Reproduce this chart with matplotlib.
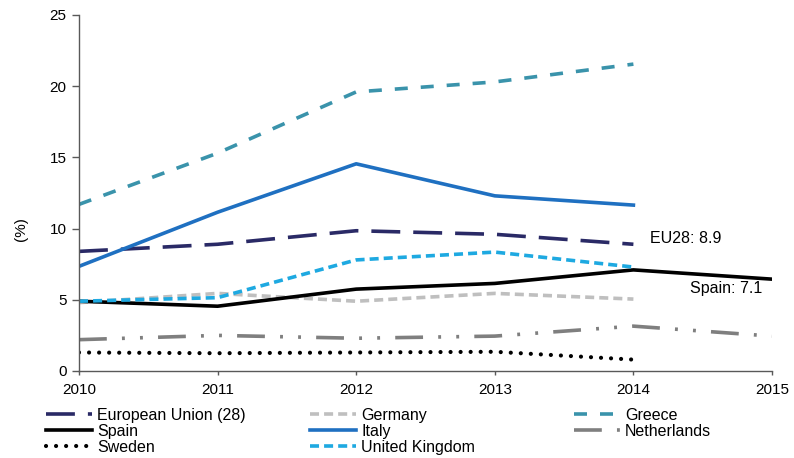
import matplotlib
matplotlib.use("Agg")
import matplotlib.pyplot as plt

plt.rcParams['font.family'] = ['Liberation Sans', 'DejaVu Sans']

years = [2010, 2011, 2012, 2013, 2014, 2015]

eu28 = [8.4, 8.9, 9.85, 9.6, 8.9]
germany = [4.8, 5.45, 4.9, 5.45, 5.05]
greece = [11.7, 15.3, 19.6, 20.3, 21.55]
spain = [4.9, 4.55, 5.75, 6.15, 7.1, 6.45]
italy = [7.35, 11.15, 14.55, 12.3, 11.65]
netherlands = [2.2, 2.5, 2.3, 2.45, 3.15, 2.45]
sweden = [1.3, 1.25, 1.3, 1.35, 0.8]
uk = [4.9, 5.15, 7.8, 8.35, 7.3]

W, H = 794, 458
fig = plt.figure(figsize=(W / 100, H / 100), dpi=100)
ax = fig.add_axes([79 / W, 1 - 371 / H, (772 - 79) / W, (371 - 15) / H])

lw = 2.6
lines = {}
lines['eu'], = ax.plot(years[:5], eu28, color='#2a2a66', lw=lw, dashes=(8, 3.6),
                       label='European Union (28)')
lines['de'], = ax.plot(years[:5], germany, color='#bfbfbf', lw=lw, dashes=(2.5, 1.4),
                       label='Germany')
lines['gr'], = ax.plot(years[:5], greece, color='#3a93ab', lw=lw, dashes=(3.6, 3.6),
                       label='Greece')
lines['es'], = ax.plot(years, spain, color='#000000', lw=lw, label='Spain')
lines['it'], = ax.plot(years[:5], italy, color='#1f70c1', lw=lw, label='Italy')
lines['nl'], = ax.plot(years, netherlands, color='#7f7f7f', lw=lw,
                       dashes=(7.7, 4.2, 0.8, 4.2, 0.8, 4.2), label='Netherlands')
lines['se'], = ax.plot(years[:5], sweden, color='#000000', lw=lw + 0.4, dashes=(0.01, 2.4),
                       dash_capstyle='round', label='Sweden')
lines['uk'], = ax.plot(years[:5], uk, color='#1ea9e1', lw=lw, dashes=(2.5, 1.4),
                       label='United Kingdom')

ax.text(2014.12, 9.27, 'EU28: 8.9', fontsize=11.5, va='center', ha='left')
ax.text(2014.93, 5.76, 'Spain: 7.1', fontsize=11.5, va='center', ha='right')

ax.set_xlim(2010, 2015)
ax.set_ylim(0, 25)
ax.set_xticks(years)
ax.set_yticks([0, 5, 10, 15, 20, 25])
ax.tick_params(axis='both', labelsize=11, color='#595959', width=1)
ax.tick_params(axis='y', length=5, pad=4)
ax.tick_params(axis='x', length=3, pad=6)
for side in ('top', 'right'):
    ax.spines[side].set_visible(False)
for side in ('left', 'bottom'):
    ax.spines[side].set_color('#595959')
    ax.spines[side].set_linewidth(1)
ax.set_ylabel('(%)', fontsize=11)
ax.yaxis.set_label_coords(-0.074, 0.40)

# legend laid out as three columns
columns = [
    (46, ['eu', 'es', 'se']),
    (310, ['de', 'it', 'uk']),
    (574, ['gr', 'nl']),
]
row_top = 408
for i, (x0, keys) in enumerate(columns):
    hs = [lines[k] for k in keys]
    leg = fig.legend(hs, [h.get_label() for h in hs], loc='upper left',
                     bbox_to_anchor=(x0 / W, 1 - row_top / H), frameon=False,
                     fontsize=11.5, handlelength=2.9, handletextpad=0.3,
                     labelspacing=0.05, borderaxespad=0, borderpad=0)

fig.savefig('out.png', dpi=100)
